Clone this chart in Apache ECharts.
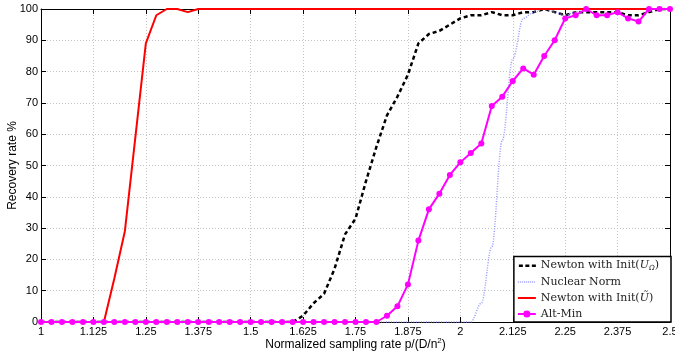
<!DOCTYPE html>
<html>
<head>
<meta charset="utf-8">
<script src="https://cdn.jsdelivr.net/npm/echarts@6/dist/echarts.min.js"></script>
<style>
  html, body { margin: 0; padding: 0; background: #fff; }
  #chart { width: 675px; height: 358px; }
</style>
</head>
<body>
<div id="chart"></div>
<script>
// sampling rate p/(D/n^2), step 0.025
const rates = [
  1, 1.025, 1.05, 1.075, 1.1, 1.125, 1.15, 1.175, 1.2, 1.225,
  1.25, 1.275, 1.3, 1.325, 1.35, 1.375, 1.4, 1.425, 1.45, 1.475,
  1.5, 1.525, 1.55, 1.575, 1.6, 1.625, 1.65, 1.675, 1.7, 1.725,
  1.75, 1.775, 1.8, 1.825, 1.85, 1.875, 1.9, 1.925, 1.95, 1.975,
  2, 2.025, 2.05, 2.075, 2.1, 2.125, 2.15, 2.175, 2.2, 2.225,
  2.25, 2.275, 2.3, 2.325, 2.35, 2.375, 2.4, 2.425, 2.45, 2.475, 2.5
];

const newtonOmega = [
  0, 0, 0, 0, 0, 0, 0, 0, 0, 0,
  0, 0, 0, 0, 0, 0, 0, 0, 0, 0,
  0, 0, 0, 0, 0, 2, 6, 9, 17, 28,
  33, 45, 56, 66, 72, 79, 89, 92, 93, 95,
  97, 98, 98, 99, 98, 98, 99, 99, 100, 99,
  98, 99, 99, 99, 99, 99, 98, 98, 99, 100, 100
];

const nuclearNorm = [
  0, 0, 0, 0, 0, 0, 0, 0, 0, 0,
  0, 0, 0, 0, 0, 0, 0, 0, 0, 0,
  0, 0, 0, 0, 0, 0, 0, 0, 0, 0,
  0, 0, 0, 0, 0, 0, 0, 0, 0, 0,
  0, 0, 6, 24, 58, 84, 97, 99, 100, 99,
  98, 99, 100, 100, 100, 100, 100, 100, 100, 100, 100
];

const newtonTilde = [
  0, 0, 0, 0, 0, 0, 0, 14, 29, 59,
  89, 98, 100, 100, 99, 100, 100, 100, 100, 100,
  100, 100, 100, 100, 100, 100, 100, 100, 100, 100,
  100, 100, 100, 100, 100, 100, 100, 100, 100, 100,
  100, 100, 100, 100, 100, 100, 100, 100, 100, 100,
  100, 100, 100, 100, 100, 100, 100, 100, 100, 100, 100
];

const altMin = [
  0, 0, 0, 0, 0, 0, 0, 0, 0, 0,
  0, 0, 0, 0, 0, 0, 0, 0, 0, 0,
  0, 0, 0, 0, 0, 0, 0, 0, 0, 0,
  0, 0, 0, 2, 5, 12, 26, 36, 41, 47,
  51, 54, 57, 69, 72, 77, 81, 79, 85, 90,
  97, 98, 100, 98, 98, 99, 97, 96, 100, 100, 100
];

const legendText = {
  newtonOmega: "Newton with Init({it|U}{sub|Ω})",
  nuclearNorm: "Nuclear Norm",
  newtonTilde: "Newton with Init({it|Ũ})",
  altMin: "Alt-Min"
};

// legend glyphs, 18x12 box (tiny corner dots keep the box size)
const box = "M0,0h0.01v0.01h-0.01z M17.99,11.99h0.01v0.01h-0.01z ";
const legendIcons = {
  newtonOmega: box + "M1,5h4v2.4h-4z M7.5,5h4v2.4h-4z M14,5h4v2.4h-4z",
  nuclearNorm: box + "M0,5.3h1v1.4h-1z M2,5.3h1v1.4h-1z M4,5.3h1v1.4h-1z M6,5.3h1v1.4h-1z M8,5.3h1v1.4h-1z M10,5.3h1v1.4h-1z M12,5.3h1v1.4h-1z M14,5.3h1v1.4h-1z M16,5.3h1v1.4h-1z",
  newtonTilde: box + "M0,5h18v2h-18z",
  altMin: box + "M0,5h18v2h-18z M9,2.5a3.5,3.5 0 1,1 -0.001,0z"
};

const pairs = ys => rates.map((x, i) => [x, ys[i]]);

const chart = echarts.init(document.getElementById("chart"), null, { renderer: "canvas" });

const sans = "Liberation Sans";
const gridLine = {
  show: true, showMinLine: false, showMaxLine: false,
  lineStyle: { color: "#c4c4c4", type: [1, 2], width: 1 }
};
const frameLine = { show: true, onZero: false, lineStyle: { color: "#000", width: 1 } };
const frameTick = { show: true, inside: true, length: 5, lineStyle: { color: "#000" } };

chart.setOption({
  animation: false,
  backgroundColor: "#fff",
  grid: {
    left: 41, right: 5, top: 9, bottom: 36,
    outerBoundsMode: "none", containLabel: false
  },
  legend: {
    orient: "vertical",
    right: 4,
    bottom: 36,
    backgroundColor: "#fff",
    borderColor: "#000",
    borderWidth: 1.5,
    padding: [3, 12, 2, 4],
    itemGap: 4,
    itemWidth: 18,
    itemHeight: 12,
    formatter: name => legendText[name],
    textStyle: {
      fontFamily: "DejaVu Serif",
      fontSize: 11,
      color: "#222",
      rich: {
        it: { fontFamily: "DejaVu Serif", fontStyle: "italic", fontSize: 11, color: "#222" },
        sub: { fontFamily: "DejaVu Serif", fontStyle: "italic", fontSize: 7, color: "#222", padding: [6, 0, 0, 0] }
      }
    },
    data: ["newtonOmega", "nuclearNorm", "newtonTilde", "altMin"].map(n => ({ name: n, icon: "path://" + legendIcons[n] }))
  },
  xAxis: [
    {
      type: "value", min: 1, max: 2.5, interval: 0.125,
      name: "Normalized sampling rate p/(D/n{sup|2})",
      nameLocation: "middle", nameGap: 15, nameMoveOverlap: false,
      nameTextStyle: {
        fontFamily: sans, fontSize: 12, color: "#000",
        rich: { sup: { fontFamily: sans, fontSize: 8, color: "#000", padding: [0, 0, 8, 0] } }
      },
      axisLine: frameLine,
      axisTick: frameTick,
      axisLabel: { fontFamily: sans, fontSize: 11, color: "#000", margin: 4 },
      splitLine: gridLine
    },
    {
      type: "value", min: 1, max: 2.5, interval: 0.125, position: "top",
      axisLine: frameLine,
      axisTick: frameTick,
      axisLabel: { show: false },
      splitLine: { show: false }
    }
  ],
  yAxis: [
    {
      type: "value", min: 0, max: 100, interval: 10,
      name: "Recovery rate %",
      nameLocation: "middle", nameGap: 22, nameMoveOverlap: false,
      nameTextStyle: { fontFamily: sans, fontSize: 12, color: "#000" },
      axisLine: frameLine,
      axisTick: frameTick,
      axisLabel: { fontFamily: sans, fontSize: 11, color: "#000", margin: 3 },
      splitLine: gridLine
    },
    {
      type: "value", min: 0, max: 100, interval: 10, position: "right",
      axisLine: frameLine,
      axisTick: frameTick,
      axisLabel: { show: false },
      splitLine: { show: false }
    }
  ],
  series: [
    {
      name: "newtonOmega", type: "line", data: pairs(newtonOmega),
      symbol: "none", color: "#000",
      lineStyle: { color: "#000", width: 2.5, type: [4, 3] }
    },
    {
      name: "nuclearNorm", type: "line", data: pairs(nuclearNorm),
      symbol: "none", color: "#9a9aff",
      smooth: 0.35, smoothMonotone: "x",
      lineStyle: { color: "#9a9aff", width: 1.5, type: [1, 1.5] }
    },
    {
      name: "newtonTilde", type: "line", data: pairs(newtonTilde),
      symbol: "none", color: "#ff0000",
      lineStyle: { color: "#ff0000", width: 2 }
    },
    {
      name: "altMin", type: "line", data: pairs(altMin),
      symbol: "circle", symbolSize: 6, showAllSymbol: true, color: "#ff00ff",
      itemStyle: { color: "#ff00ff" },
      lineStyle: { color: "#ff00ff", width: 2 }
    }
  ]
});
</script>
</body>
</html>
